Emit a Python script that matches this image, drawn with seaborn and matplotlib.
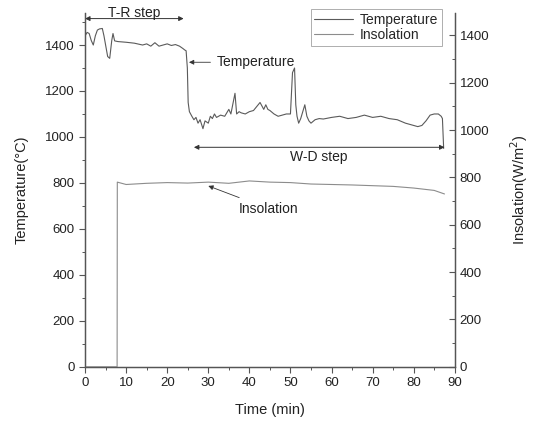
import matplotlib
matplotlib.use("Agg")
import matplotlib.pyplot as plt
from matplotlib.lines import Line2D
from matplotlib.ticker import MultipleLocator
import seaborn as sns
import pandas as pd

# ---- data ----
temp_time = [0, 0.5, 1, 1.5, 2, 2.5, 3, 3.5, 4.2, 4.6, 5, 5.5, 6, 6.5, 6.8, 7.2, 8, 10, 12, 14,
             15, 16, 17, 18, 19, 20, 21, 22, 23, 23.8, 24.3, 24.6, 24.9, 25.1, 25.4, 26, 26.5, 27,
             27.5, 28, 28.7, 29.2, 30, 30.5, 31, 31.5, 32, 33, 34, 35, 35.5, 36.5, 36.9,
             37.5, 38, 39, 40, 41, 42.6, 43.5, 44, 44.5, 45, 46, 47, 48, 49, 50, 50.5, 51, 51.3,
             51.6, 52, 52.5, 53, 53.5, 54, 54.5, 55, 56, 57, 58, 60, 62, 64, 66, 68, 70, 72,
             74, 76, 78, 80, 81, 82, 83, 84, 85, 86, 86.7, 87, 87.3]
temp_vals = [1440, 1455, 1450, 1420, 1400, 1440, 1465, 1470, 1472, 1440, 1400, 1350, 1342,
             1420, 1450, 1418, 1415, 1412, 1408, 1400, 1405, 1395, 1410, 1395, 1400, 1405,
             1398, 1402, 1395, 1385, 1378, 1375, 1300, 1150, 1110, 1090, 1075, 1085, 1060,
             1075, 1036, 1070, 1060, 1090, 1080, 1100, 1085, 1095, 1090, 1120, 1100, 1190,
             1100, 1110, 1105, 1100, 1110, 1115, 1150, 1120, 1140, 1120, 1115, 1100, 1090,
             1095, 1100, 1100, 1280, 1300, 1140, 1090, 1060, 1080, 1110, 1140, 1090, 1070,
             1060, 1075, 1080, 1078, 1085, 1090, 1080, 1085, 1095, 1085, 1090, 1080, 1075,
             1060, 1050, 1045, 1050, 1070, 1095, 1100, 1100, 1090, 1080, 950]

ins_time = [0, 7.8, 7.85, 10, 15, 20, 25, 30, 35, 40, 45, 50, 55, 60, 65, 70, 75, 80, 85, 87.5]
ins_vals = [0, 0, 780, 770, 775, 778, 776, 780, 775, 785, 780, 778, 772, 770, 768, 765, 762,
            755, 745, 730]

series_names = ["Temperature", "Insolation"]

temp_df = pd.DataFrame({"Time": temp_time, "Value": temp_vals})
ins_df = pd.DataFrame({"Time": ins_time, "Value": ins_vals})

sns.set_style("ticks")
plt.rcParams['font.family'] = ['Liberation Sans', 'DejaVu Sans']

fig = plt.figure(figsize=(5.35, 4.28), dpi=100)
ax = fig.add_axes([0.159, 0.143, 0.691, 0.827])
ax2 = ax.twinx()

c_temp = '#5a5a5a'
c_ins = '#8c8c8c'
sns.lineplot(data=temp_df, x="Time", y="Value", ax=ax, color=c_temp, lw=0.8,
             estimator=None, sort=False, legend=False)
sns.lineplot(data=ins_df, x="Time", y="Value", ax=ax2, color=c_ins, lw=0.8,
             estimator=None, sort=False, legend=False)

ax.set_xlim(0, 90)
ax.set_ylim(0, 1540)
ax2.set_ylim(0, 1495)

ax.set_xticks(range(0, 91, 10))
ax.set_yticks(range(0, 1401, 200))
ax2.set_yticks(range(0, 1401, 200))
ax.xaxis.set_minor_locator(MultipleLocator(5))
ax.yaxis.set_minor_locator(MultipleLocator(100))
ax2.yaxis.set_minor_locator(MultipleLocator(100))

for a in (ax, ax2):
    a.spines['top'].set_visible(False)
    for s in a.spines.values():
        s.set_color('#555555')
        s.set_linewidth(0.9)
ax.tick_params(axis='both', which='major', labelsize=9.5, length=4, width=0.8,
               color='#555555', labelcolor='#222222', direction='out')
ax.tick_params(axis='both', which='minor', length=2.5, width=0.7, color='#555555', direction='out')
ax2.tick_params(axis='y', which='major', labelsize=9.5, length=4, width=0.8,
                color='#555555', labelcolor='#222222', direction='in')
ax2.tick_params(axis='y', which='minor', length=2.5, width=0.7, color='#555555', direction='in')

ax.set_xlabel("Time (min)", fontsize=10.5, color='#222222', labelpad=10)
ax.set_ylabel("Temperature(°C)", fontsize=10.5, color='#222222', labelpad=12)
ax2.set_ylabel("Insolation(W/m$^2$)", fontsize=10.5, color='#222222', labelpad=14)

# annotations
ap = dict(arrowstyle='<|-|>', color='#333333', lw=0.7, mutation_scale=7, shrinkA=0, shrinkB=0)
ax.annotate('', xy=(0, 1515), xytext=(24, 1515), arrowprops=ap, annotation_clip=False)
ax.text(12, 1538, "T-R step", ha='center', va='center', fontsize=10, color='#222222', clip_on=False)

ax.annotate('', xy=(87.5, 955), xytext=(26.5, 955), arrowprops=ap)
ax.text(57, 913, "W-D step", ha='center', va='center', fontsize=10, color='#222222')

ax.annotate("Temperature", xy=(25.3, 1325), xytext=(32, 1325), fontsize=10, color='#222222',
            va='center', ha='left',
            arrowprops=dict(arrowstyle='-|>', color='#333333', lw=0.6, mutation_scale=7,
                            shrinkA=2, shrinkB=0))
ax.annotate("Insolation", xy=(30, 787), xytext=(37.5, 687), fontsize=10, color='#222222',
            va='center', ha='left',
            arrowprops=dict(arrowstyle='-|>', color='#333333', lw=0.6, mutation_scale=7,
                            shrinkA=2, shrinkB=0))

handles = [Line2D([0], [0], color=c_temp, lw=0.8), Line2D([0], [0], color=c_ins, lw=0.8)]
leg = ax2.legend(handles, series_names, loc='upper right', bbox_to_anchor=(0.965, 1.01),
                 fontsize=10, frameon=True, fancybox=False, handlelength=2.8,
                 borderpad=0.25, labelspacing=0.1, handletextpad=0.5, borderaxespad=0)
leg.get_frame().set_edgecolor('#999999')
leg.get_frame().set_linewidth(0.7)

fig.savefig("out.png", dpi=100)
